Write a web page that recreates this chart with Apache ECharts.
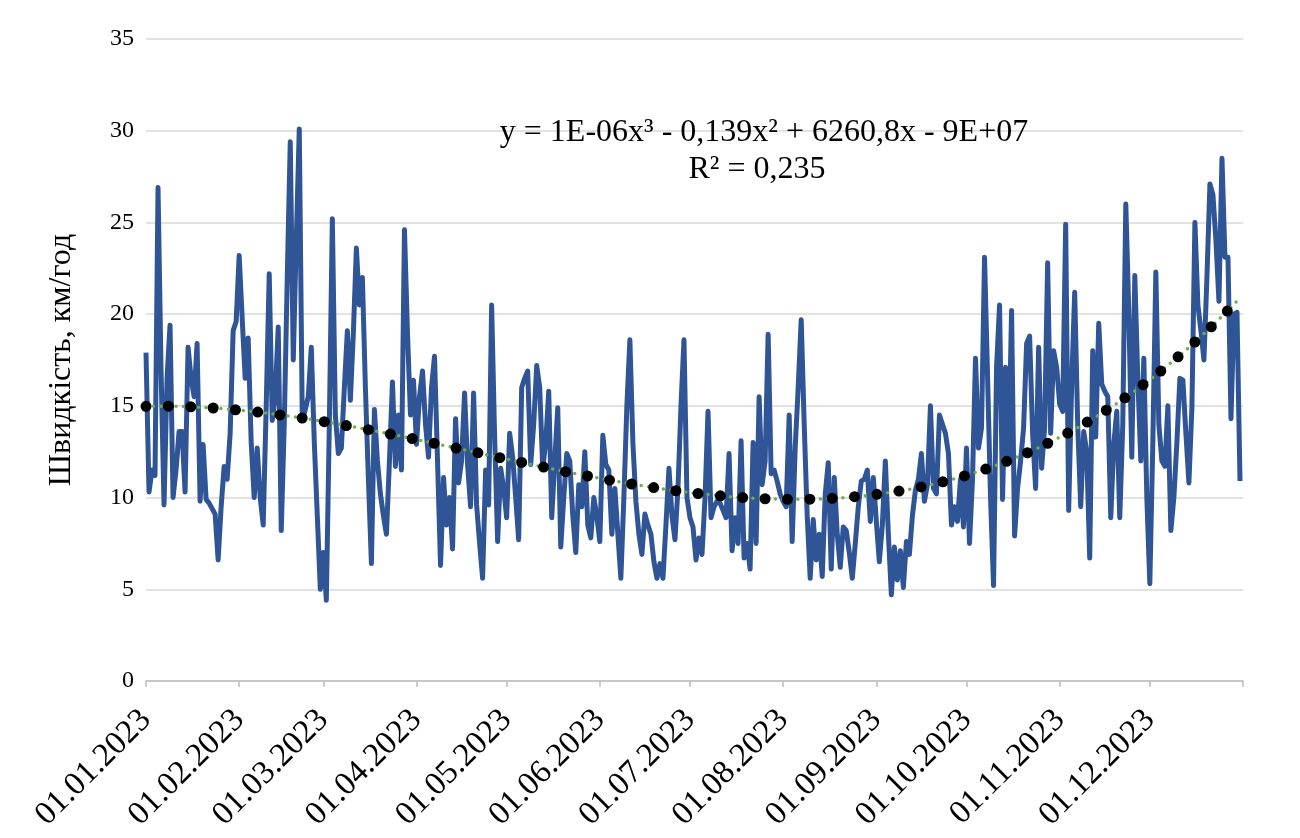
<!DOCTYPE html>
<html>
<head>
<meta charset="utf-8">
<script src="https://cdn.jsdelivr.net/npm/echarts@6/dist/echarts.min.js"></script>
<style>
html, body { margin: 0; padding: 0; background: #fff; }
#chartMain { width: 1300px; height: 838px; }
</style>
</head>
<body>
<div id="chartMain"></div>
<script>
// середньодобова швидкість вітру, км/год (2023)
var janSpeed = [17.9, 10.3, 11.5, 11.2, 26.9, 17, 9.6, 16.5, 19.4, 10.0, 11.5, 13.6, 13.6, 10.3, 18.2, 16.5, 15.5, 18.4, 9.8, 12.9, 9.9, 9.7, 9.4, 9.1, 6.6, 9.5, 11.7, 11.0, 13.5, 19.1, 19.6];
var febSpeed = [23.2, 19.8, 16.5, 18.7, 13, 10.0, 12.7, 10.0, 8.5, 15, 22.2, 14.2, 15.5, 19.3, 8.2, 14, 22, 29.4, 17.5, 24, 30.1, 14.2, 14.8, 15.5, 18.2, 13, 9, 5.0];
var marSpeed = [7, 4.4, 14, 25.2, 14.5, 12.4, 12.7, 16, 19.1, 15.3, 19, 23.6, 20.5, 22, 16, 11, 6.4, 14.8, 12, 10.2, 9, 8, 12, 16.3, 11.7, 14.5, 11.5, 24.6, 19, 14.5, 16.4];
var aprSpeed = [12.9, 15.5, 16.9, 14, 12.2, 16, 17.7, 12, 6.3, 11.1, 8.5, 10, 7.2, 14.3, 10.8, 12, 15.7, 11.8, 9.5, 15.7, 9.6, 7.5, 5.6, 11.5, 9.6, 20.5, 13.3, 7.6, 11.6, 10.5];
var maySpeed = [8.9, 13.5, 12.2, 10, 7.7, 16, 16.5, 16.9, 11.8, 14, 17.2, 16, 11.6, 13, 15.8, 8.9, 12, 14.9, 7.3, 10, 12.4, 12, 9, 7, 10.7, 9.5, 12.5, 8.5, 7.8, 10, 9];
var junSpeed = [7.6, 13.4, 11.8, 11.5, 8, 10.5, 8, 5.6, 10, 15, 18.6, 13, 9.8, 8, 6.9, 9.1, 8.5, 8, 6.5, 5.6, 6.4, 5.6, 8.5, 11.6, 9, 7.7, 10.5, 15, 18.6, 10];
var julSpeed = [8.9, 8.4, 6.6, 7.8, 6.9, 10, 14.7, 8.9, 9.5, 9.8, 9.7, 9.3, 8.9, 12.4, 7.1, 8.9, 7.5, 13.1, 6.7, 7.5, 6.1, 13, 7.5, 15.5, 10.7, 12, 18.9, 11.3, 11.5, 10.9, 10.2];
var augSpeed = [9.8, 9.5, 14.5, 7.6, 12.7, 16, 19.7, 14, 9, 5.6, 8.8, 6.6, 8, 5.7, 10.2, 11.9, 6.1, 11.1, 8, 6.2, 8.4, 8.2, 7, 5.6, 7.5, 9.5, 10.9, 11, 11.5, 8.7, 11.1];
var sepSpeed = [8.7, 6.5, 8.5, 12, 8, 4.7, 7.3, 5.5, 7.1, 5.1, 7.6, 6.9, 9, 10.4, 11, 12.4, 9.8, 10.7, 15, 10.5, 10.2, 14.5, 14, 13.5, 12.4, 8.5, 9.5, 8.7, 11, 8.4];
var octSpeed = [12.7, 7.5, 11, 17.6, 12.7, 13.8, 23.1, 16.7, 10, 5.2, 17.1, 20.5, 9.9, 17.1, 12, 20.2, 7.9, 10.5, 12, 13.8, 18.4, 18.8, 13.5, 10.5, 18.2, 11.6, 13.8, 22.8, 13.5, 18, 17.1];
var novSpeed = [15.1, 14.7, 24.9, 9.3, 16.2, 21.2, 14, 9.5, 13.6, 12.5, 6.7, 18, 13.3, 19.5, 16.2, 15.8, 15.5, 8.9, 12.9, 14.7, 8.9, 14, 26, 20.2, 12.2, 22.1, 16.5, 12, 17.6, 10];
var decSpeed = [5.3, 13, 22.3, 14, 12, 11.7, 15, 8.2, 10, 13, 16.5, 16.4, 13.5, 10.8, 14.9, 25, 20.5, 19.1, 17.5, 22, 27.1, 26.5, 24, 20.7, 28.5, 23.1, 23.1, 14.3, 20, 20.1, 10.9];

var monthSpeeds = [janSpeed, febSpeed, marSpeed, aprSpeed, maySpeed, junSpeed,
                   julSpeed, augSpeed, sepSpeed, octSpeed, novSpeed, decSpeed];

var yTicks = [0, 5, 10, 15, 20, 25, 30, 35];
var yTitle = 'Швидкість, км/год';
var trendText = 'y = 1E-06x³ - 0,139x² + 6260,8x - 9E+07';
var r2Text = 'R² = 0,235';

function pad2(n) { return (n < 10 ? '0' : '') + n; }

// категорії: кожен день 2023 року + 01.01.2024 як кінець осі
var dates = [];
var speed = [];
for (var m = 0; m < 12; m++) {
    for (var d = 0; d < monthSpeeds[m].length; d++) {
        dates.push(pad2(d + 1) + '.' + pad2(m + 1) + '.2023');
        speed.push(monthSpeeds[m][d]);
    }
}
dates.push('01.01.2024');

// поліноміальний тренд 3-го степеня (МНК), як у Excel
function polyFit(ys, deg) {
    var n = ys.length, size = deg + 1;
    var S = [], B = [];
    for (var k = 0; k <= 2 * deg; k++) S.push(0);
    for (var r = 0; r < size; r++) B.push(0);
    for (var i = 0; i < n; i++) {
        var t = i / (n - 1), p = 1;
        for (var k2 = 0; k2 <= 2 * deg; k2++) {
            S[k2] += p;
            if (k2 < size) B[k2] += ys[i] * p;
            p *= t;
        }
    }
    var A = [];
    for (var r2 = 0; r2 < size; r2++) {
        A.push([]);
        for (var c = 0; c < size; c++) A[r2].push(S[r2 + c]);
        A[r2].push(B[r2]);
    }
    for (var col = 0; col < size; col++) {
        var piv = col;
        for (var rr = col + 1; rr < size; rr++) {
            if (Math.abs(A[rr][col]) > Math.abs(A[piv][col])) piv = rr;
        }
        var tmp = A[col]; A[col] = A[piv]; A[piv] = tmp;
        for (var rr2 = 0; rr2 < size; rr2++) {
            if (rr2 === col) continue;
            var f = A[rr2][col] / A[col][col];
            for (var cc = col; cc <= size; cc++) A[rr2][cc] -= f * A[col][cc];
        }
    }
    var coef = [];
    for (var q = 0; q < size; q++) coef.push(A[q][size] / A[q][q]);
    var out = [];
    for (var j = 0; j < n; j++) {
        var tj = j / (n - 1), v = 0, pj = 1;
        for (var e = 0; e < size; e++) { v += coef[e] * pj; pj *= tj; }
        out.push(v);
    }
    return out;
}

var trend = polyFit(speed, 3);

var serif = '"Liberation Serif", "Times New Roman", serif';

var option = {
    backgroundColor: '#ffffff',
    animation: false,
    grid: { left: 146, right: 57, top: 39, bottom: 157 },
    xAxis: {
        type: 'category',
        data: dates,
        boundaryGap: false,
        axisLine: { lineStyle: { color: '#bfbfbf', width: 1.5 } },
        axisTick: {
            length: 6,
            lineStyle: { color: '#bfbfbf', width: 1.5 },
            interval: function (idx, val) { return val.indexOf('01.') === 0; }
        },
        axisLabel: {
            rotate: 45,
            margin: 34,
            fontSize: 33,
            fontFamily: serif,
            color: '#000',
            interval: function (idx, val) { return val.indexOf('01.') === 0 && val !== '01.01.2024'; }
        },
        splitLine: { show: false }
    },
    yAxis: {
        type: 'value',
        min: yTicks[0],
        max: yTicks[yTicks.length - 1],
        interval: 5,
        name: yTitle,
        nameLocation: 'middle',
        nameGap: 68,
        nameTextStyle: { fontSize: 32, fontFamily: serif, color: '#000' },
        axisLine: { show: false },
        axisTick: { show: false },
        axisLabel: { fontSize: 24, fontFamily: serif, color: '#000', margin: 12 },
        splitLine: { lineStyle: { color: '#d9d9d9', width: 1.5 } }
    },
    graphic: [
        {
            type: 'text', x: 764, y: 133, silent: true, z: 10,
            style: { text: trendText, font: '32px ' + serif, fill: '#000', align: 'center', verticalAlign: 'middle' }
        },
        {
            type: 'text', x: 757, y: 170, silent: true, z: 10,
            style: { text: r2Text, font: '32px ' + serif, fill: '#000', align: 'center', verticalAlign: 'middle' }
        }
    ],
    series: [
        {
            name: 'speed',
            type: 'line',
            data: speed,
            symbol: 'none',
            silent: true,
            z: 2,
            lineStyle: { color: '#2f5597', width: 5, join: 'round' }
        },
        {
            name: 'trendGreen',
            type: 'line',
            data: trend,
            symbol: 'none',
            silent: true,
            z: 3,
            lineStyle: { color: '#70ad47', width: 3.5, type: [0, 7.5], cap: 'round' }
        },
        {
            name: 'trendBlack',
            type: 'line',
            data: trend,
            symbol: 'none',
            silent: true,
            z: 4,
            lineStyle: { color: '#000', width: 11, type: [0, 22.4], cap: 'round' }
        }
    ]
};

var mychart = echarts.init(document.getElementById('chartMain'));
mychart.setOption(option);
</script>
</body>
</html>
